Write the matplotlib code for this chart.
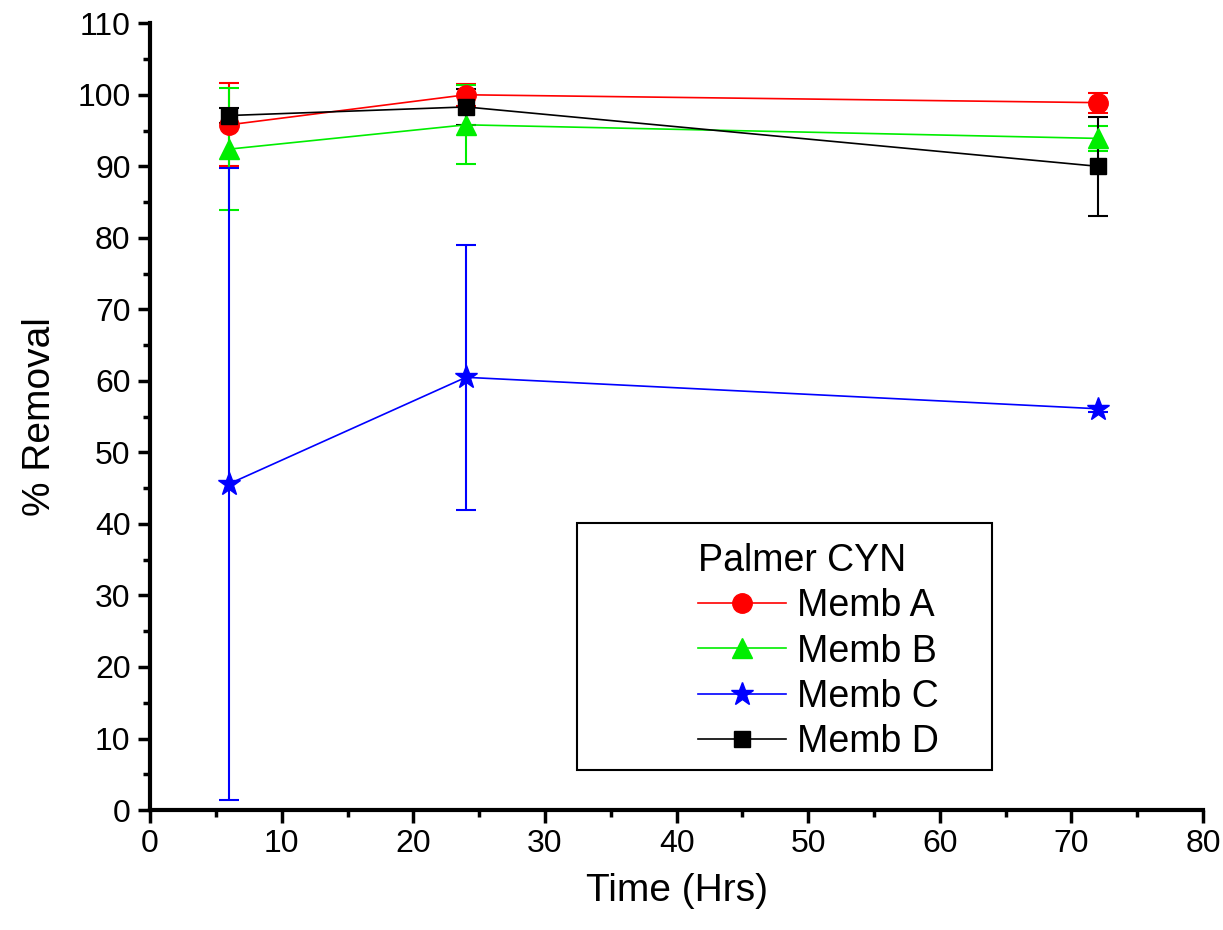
import matplotlib.pyplot as plt
from matplotlib.patches import Rectangle
from matplotlib.lines import Line2D

plt.rcParams['font.family'] = ['Liberation Sans', 'DejaVu Sans']

time_hrs = [6, 24, 72]
memb_a = [95.8, 100.0, 98.9]
memb_a_err = [5.8, 1.5, 1.4]
memb_b = [92.4, 95.8, 93.9]
memb_b_err = [8.5, 5.5, 1.7]
memb_c = [45.6, 60.5, 56.1]
memb_c_err = [44.2, 18.5, 0.4]
memb_d = [97.1, 98.3, 90.0]
memb_d_err = [1.0, 2.5, 6.9]

series = [
    ("Memb A", memb_a, memb_a_err, "#ff0000", "o", 14),
    ("Memb B", memb_b, memb_b_err, "#00ee00", "^", 15),
    ("Memb C", memb_c, memb_c_err, "#0000ff", "*", 17),
    ("Memb D", memb_d, memb_d_err, "#000000", "s", 12),
]

fig = plt.figure(figsize=(12.23, 9.3), dpi=100)
ax = fig.add_axes([0.1227, 0.129, 0.861, 0.846])

handles = []
for name, vals, errs, col, mk, ms in series:
    ax.errorbar(time_hrs, vals, yerr=errs, color=col, marker=mk, markersize=ms,
                linewidth=1.2, elinewidth=1.5, capsize=7, capthick=1.5,
                markeredgecolor=col)
    handles.append(Line2D([], [], color=col, marker=mk, markersize=ms,
                          linewidth=1.2, label=name))

ax.set_xlim(0, 80)
ax.set_ylim(0, 110)
ax.set_xticks(range(0, 81, 10))
ax.set_yticks(range(0, 111, 10))
ax.set_xticks(range(5, 80, 10), minor=True)
ax.set_yticks(range(5, 110, 10), minor=True)

for s in ['top', 'right']:
    ax.spines[s].set_visible(False)
for s in ['left', 'bottom']:
    ax.spines[s].set_linewidth(3)
ax.tick_params(which='major', direction='out', length=9, width=2.5, labelsize=23, pad=5)
ax.tick_params(which='minor', direction='out', length=5, width=2.5)

ax.set_xlabel('Time (Hrs)', fontsize=28, labelpad=10)
ax.set_ylabel('% Removal', fontsize=28, labelpad=14)

# legend box drawn separately so the entries can sit to the right of it
ax.add_patch(Rectangle((0.405, 0.051), 0.395, 0.314, transform=ax.transAxes,
                       fill=False, edgecolor='black', linewidth=1.5, zorder=5))
leg = ax.legend(handles=handles, title='Palmer CYN', loc='upper left',
                bbox_to_anchor=(0.495, 0.373), frameon=False, fontsize=27,
                title_fontsize=27, handlelength=2.35, handletextpad=0.3,
                labelspacing=0.25, alignment='left', borderpad=0.2)

fig.savefig('out.png', dpi=100)
